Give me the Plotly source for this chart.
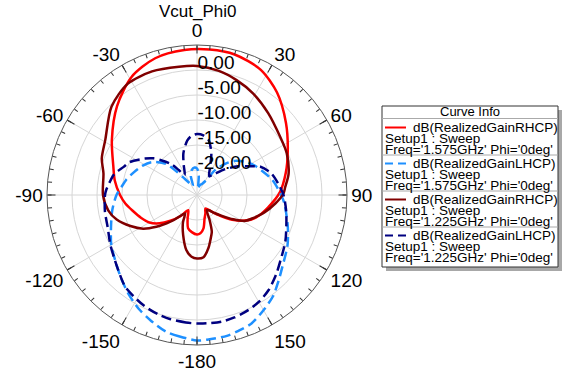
import plotly.graph_objects as go

# ---------------- data (dB vs theta, theta in degrees, 0 = up, clockwise) ----------------
theta_rhcp_1575 = [-180, -172, -165, -158, -150, -142, -134, -127, -120, -112, -104, -97, -90, -80, -71, -57,
                   -42, -29, -17, -5, 5, 15, 27, 38, 51, 64, 76, 88, 100, 111, 118, 125, 131, 137, 148,
                   155, 162, 169, 175, 180]
gain_rhcp_1575 = [-17.1, -17.5, -18.1, -20.0, -21.5, -19.6, -17.6, -15.6, -14.0, -12.9, -11.8, -10.6, -9.6, -8.3,
                  -7.3, -4.7, -1.1, 2.0, 3.6, 4.1, 4.2, 4.1, 3.1, 1.0, -2.1, -4.8, -6.7, -8.4, -10.6, -12.4,
                  -14.1, -16.4, -18.5, -20.2, -21.8, -21.0, -20.1, -18.2, -17.3, -17.1]

theta_lhcp_1575 = [-180, -173, -167, -160, -153, -145, -137, -129, -120, -110, -100, -90, -84, -78, -70, -62,
                   -54, -45, -41, -37, -30, -24, -18, -12, -5, 0, 5, 10, 15, 25, 32, 36, 42, 48, 56, 64, 79,
                   90, 95, 109, 119, 130, 137, 143, 150, 157, 163, 168, 176, 180]
gain_lhcp_1575 = [4.1, 3.5, 3.0, 1.8, 0.6, -1.0, -2.6, -4.0, -5.2, -6.7, -7.8, -8.9, -9.8, -10.5, -11.6, -12.6,
                  -13.8, -16.2, -18.8, -21.0, -22.5, -23.0, -21.0, -19.9, -19.5, -19.7, -21.0, -23.8, -23.0,
                  -22.5, -21.5, -18.8, -16.6, -14.8, -13.2, -11.9, -9.6, -8.2, -7.5, -5.8, -4.3, -2.7, -1.2,
                  0.3, 1.6, 2.9, 3.4, 3.8, 4.0, 4.1]

theta_rhcp_1225 = [-180, -175, -169, -161, -153, -147, -142, -137, -133, -128, -122, -115, -107, -100, -90, -77,
                   -69, -59, -44, -32, -20, -8, 0, 10, 19, 29, 41, 55, 65, 77, 85, 89, 96, 105, 112, 118, 124,
                   130, 136, 141, 147, 153, 158, 161, 168, 174, 180]
gain_rhcp_1225 = [-12.3, -12.6, -13.8, -16.5, -18.8, -20.6, -19.8, -18.1, -16.7, -14.7, -12.3, -10.3, -8.2, -7.0,
                  -6.2, -5.8, -4.6, -3.6, -0.4, 1.2, 1.3, 0.9, 0.8, 0.2, -0.7, -1.8, -3.3, -4.7, -5.2, -6.2,
                  -7.3, -7.7, -9.2, -11.2, -12.8, -14.0, -16.3, -18.5, -20.0, -21.0, -21.4, -19.5, -17.1,
                  -16.3, -14.1, -12.5, -12.3]

theta_lhcp_1225 = [-180, -175, -168, -162, -155, -150, -142, -135, -128, -120, -110, -100, -90, -87, -80, -76,
                   -69, -64, -55, -50, -46, -40, -36, -32, -24, -18, -10, -5, 0, 6, 12, 19, 25, 33, 40, 47, 55,
                   62, 66, 74, 82, 90, 100, 109, 118, 128, 135, 143, 150, 156, 163, 169, 175, 180]
gain_lhcp_1225 = [0.7, 0.6, 0.4, 0.1, -0.4, -0.9, -1.7, -3.0, -4.1, -5.0, -6.0, -6.3, -6.6, -6.8, -7.5, -7.9,
                  -9.3, -10.0, -12.3, -13.6, -15.0, -16.9, -18.9, -20.3, -18.5, -16.2, -13.9, -13.1, -12.8,
                  -13.0, -13.8, -16.2, -18.8, -20.5, -19.5, -17.5, -15.0, -12.8, -11.1, -9.5, -8.6, -7.7,
                  -6.9, -6.1, -5.0, -3.8, -2.6, -1.2, -0.3, 0.2, 0.6, 0.8, 0.75, 0.7]

series_names = ["dB(RealizedGainRHCP)", "dB(RealizedGainLHCP)", "dB(RealizedGainRHCP)", "dB(RealizedGainLHCP)"]
series_setup = ["Setup1 : Sweep", "Setup1 : Sweep", "Setup1 : Sweep", "Setup1 : Sweep"]
series_freq = ["Freq='1.575GHz' Phi='0deg'", "Freq='1.575GHz' Phi='0deg'",
               "Freq='1.225GHz' Phi='0deg'", "Freq='1.225GHz' Phi='0deg'"]

angle_tickvals = [0, 30, 60, 90, 120, 150, 180, 210, 240, 270, 300, 330]
angle_ticktext = ["0", "30", "60", "90", "120", "150", "-180", "-150", "-120", "-90", "-60", "-30"]
minor_tickvals = list(range(0, 360, 5))
radial_tickvals = [-20, -15, -10, -5, 0]
radial_ticktext = ["-20.00", "-15.00", "-10.00", "-5.00", "0.00"]
radial_range = [-25, 5]
title_text = "Vcut_Phi0"
legend_title = "Curve Info"

# ---------------- styles ----------------
colors = ["#ff0000", "#1e90ff", "#800000", "#000080"]
dashes = ["solid", "10px,5px", "solid", "10px,5px"]
FONT = "Liberation Sans, Arial, sans-serif"

W, H = 570, 378
def px(x):
    return x / W
def py(y):
    return 1 - y / H

thetas = [theta_rhcp_1575, theta_lhcp_1575, theta_rhcp_1225, theta_lhcp_1225]
gains = [gain_rhcp_1575, gain_lhcp_1575, gain_rhcp_1225, gain_lhcp_1225]

fig = go.Figure()
for i in range(4):
    fig.add_trace(go.Scatterpolar(
        theta=thetas[i], r=gains[i], mode="lines",
        line=dict(color=colors[i], width=2.5, dash=dashes[i], shape="spline", smoothing=0.8),
        name=series_names[i] + " " + series_freq[i], showlegend=False, subplot="polar"))

# invisible traces carrying the overlay axes (minor ticks, radial labels)
for sp in ["polar2", "polar3"]:
    fig.add_trace(go.Scatterpolar(theta=[0], r=[radial_range[0]], mode="markers",
                                  marker=dict(opacity=0), showlegend=False, hoverinfo="skip", subplot=sp))

# radial labels sit ~7 px (1.4 dB) above their grid circles, as in the reference
label_lift = 1.4
dom = dict(x=[px(47), px(347)], y=[py(345), py(45)])
hidden_angular = dict(showticklabels=False, showline=False, showgrid=False, ticks="")
fig.update_layout(
    width=W, height=H, margin=dict(l=0, r=0, t=0, b=0),
    paper_bgcolor="white", font=dict(family=FONT, color="black"),
    polar=dict(
        domain=dom, bgcolor="white",
        angularaxis=dict(rotation=90, direction="clockwise", tickmode="array",
                         tickvals=angle_tickvals, ticktext=angle_ticktext,
                         ticks="inside", ticklen=8, tickcolor="#333333", tickwidth=1,
                         showline=True, linecolor="#555555", linewidth=1,
                         showgrid=True, gridcolor="#d6d6d6", gridwidth=1,
                         tickfont=dict(size=19, color="black", family=FONT)),
        radialaxis=dict(range=radial_range, tickmode="array", tickvals=radial_tickvals,
                        showticklabels=False, showline=False, ticks="",
                        showgrid=True, gridcolor="#d6d6d6", gridwidth=1, angle=90),
    ),
    polar2=dict(
        domain=dom, bgcolor="rgba(0,0,0,0)",
        angularaxis=dict(rotation=90, direction="clockwise", tickmode="array",
                         tickvals=minor_tickvals, ticks="inside", ticklen=4, tickcolor="#333333",
                         showticklabels=False, showline=False, showgrid=False),
        radialaxis=dict(range=radial_range, visible=False),
    ),
    polar3=dict(
        domain=dom, bgcolor="rgba(0,0,0,0)",
        angularaxis=dict(rotation=90, direction="clockwise", **hidden_angular),
        radialaxis=dict(range=[radial_range[0] - label_lift, radial_range[1] - label_lift],
                        tickmode="array", tickvals=radial_tickvals, ticktext=radial_ticktext,
                        showline=False, ticks="", showgrid=False, angle=90, tickangle=90,
                        tickfont=dict(size=19, color="black", family=FONT)),
    ),
)

# title
fig.add_annotation(text=title_text, x=px(198), y=py(0), xref="paper", yref="paper",
                   xanchor="center", yanchor="top", showarrow=False,
                   font=dict(size=17, family=FONT, color="black"))

# ---------------- legend box (Curve Info) ----------------
bx0, by0, bx1, by1 = 382, 106, 558, 267
shapes = [
    dict(type="rect", xref="paper", yref="paper", x0=px(bx0 + 4), x1=px(bx1 + 4), y0=py(by1 + 4), y1=py(by0 + 4),
         fillcolor="#a8a8a8", line=dict(width=0), layer="above"),
    dict(type="rect", xref="paper", yref="paper", x0=px(bx0), x1=px(bx1), y0=py(by1), y1=py(by0),
         fillcolor="white", line=dict(color="#333333", width=1), layer="above"),
    dict(type="line", xref="paper", yref="paper", x0=px(bx0), x1=px(bx1), y0=py(118.5), y1=py(118.5),
         line=dict(color="#aaaaaa", width=1), layer="above"),
]
fig.add_annotation(text=legend_title, x=px(470), y=py(111.5), xref="paper", yref="paper",
                   xanchor="center", yanchor="middle", showarrow=False,
                   font=dict(size=13, family=FONT, color="black"))
for i in range(4):
    y0 = 127.5 + 36 * i
    shapes.append(dict(type="line", xref="paper", yref="paper", x0=px(385), x1=px(406), y0=py(y0), y1=py(y0),
                       line=dict(color=colors[i], width=2, dash="solid" if dashes[i] == "solid" else "8px,5px"),
                       layer="above"))
    fig.add_annotation(text=series_names[i], x=px(411), y=py(y0), xref="paper", yref="paper",
                       xanchor="left", yanchor="middle", showarrow=False,
                       font=dict(size=13.5, family=FONT, color="black"))
    fig.add_annotation(text=series_setup[i], x=px(383), y=py(y0 + 11), xref="paper", yref="paper",
                       xanchor="left", yanchor="middle", showarrow=False,
                       font=dict(size=13.5, family=FONT, color="black"))
    fig.add_annotation(text=series_freq[i], x=px(383), y=py(y0 + 21.5), xref="paper", yref="paper",
                       xanchor="left", yanchor="middle", showarrow=False,
                       font=dict(size=13.5, family=FONT, color="black"))
    if i < 3:
        ys = 155 + 36 * i
        shapes.append(dict(type="line", xref="paper", yref="paper", x0=px(bx0), x1=px(bx1), y0=py(ys), y1=py(ys),
                           line=dict(color="#aaaaaa", width=1), layer="above"))
fig.update_layout(shapes=shapes)

fig.write_html("out.html", config={"displayModeBar": False},
               post_script="document.body.style.margin='0px';document.body.style.overflow='hidden';")
